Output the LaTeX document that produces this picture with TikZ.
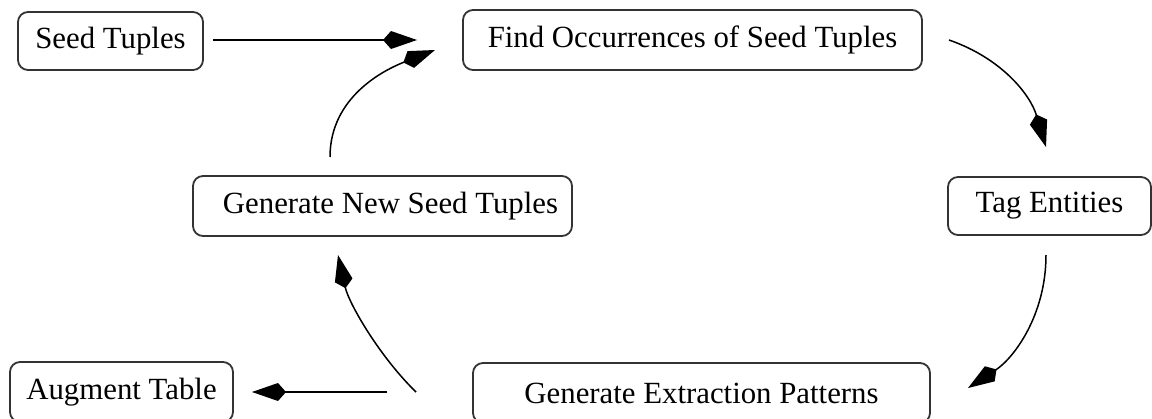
\documentclass[tikz,border=0pt]{standalone}
\usepackage{fontspec}
\setmainfont{Liberation Serif}
\usetikzlibrary{arrows.meta}
\begin{document}
\begin{tikzpicture}[x=0.5pt,y=-0.5pt,
  box/.style={draw=black!80, line width=0.9pt, rounded corners=5pt, inner sep=0pt,
    font=\fontsize{15.4}{18}\selectfont},
  conn/.style={line width=0.75pt, -{Kite[length=17pt,width=9pt,inset=4pt]}}]
\useasboundingbox (0,0) rectangle (1152,418);
\node[box, minimum width=185*0.5pt, minimum height=58*0.5pt] (seed) at (110.5,41) {Seed Tuples};
\node[box, minimum width=459*0.5pt, minimum height=60*0.5pt] (find) at (692.5,40) {Find Occurrences of Seed Tuples};
\node[box, minimum width=203*0.5pt, minimum height=58*0.5pt] (tag) at (1049.5,206) {Tag Entities};
\node[box, minimum width=379*0.5pt, minimum height=60*0.5pt] (gen) at (382.5,206) {\hspace*{8pt}Generate New Seed Tuples};
\node[box, minimum width=457*0.5pt, minimum height=60*0.5pt] (pat) at (701.5,393) {Generate Extraction Patterns};
\node[box, minimum width=223*0.5pt, minimum height=60*0.5pt] (aug) at (121.5,392) {Augment Table};
% connector end points
\coordinate (s1) at (213,40);
\coordinate (f1) at (417,40);
\coordinate (g1) at (330,157);
\coordinate (f2) at (435,50);
\coordinate (f3) at (949,40);
\coordinate (t1) at (1046,147);
\coordinate (t2) at (1046,255);
\coordinate (p1) at (968,388);
\coordinate (p2) at (416,392);
\coordinate (g2) at (338,255);
\coordinate (p3) at (387,392);
\coordinate (a1) at (252,392);
\draw[conn] (s1) -- (f1);
\draw[conn] (g1) .. controls (330,97) and (384,70) .. (f2);
\draw[conn] (f3) .. controls (1001,58) and (1030,94) .. (t1);
\draw[conn] (t2) .. controls (1046,315) and (1014,358) .. (p1);
\draw[conn] (p2) .. controls (380,357) and (349,304) .. (g2);
\draw[conn] (p3) -- (a1);
\end{tikzpicture}
\end{document}
